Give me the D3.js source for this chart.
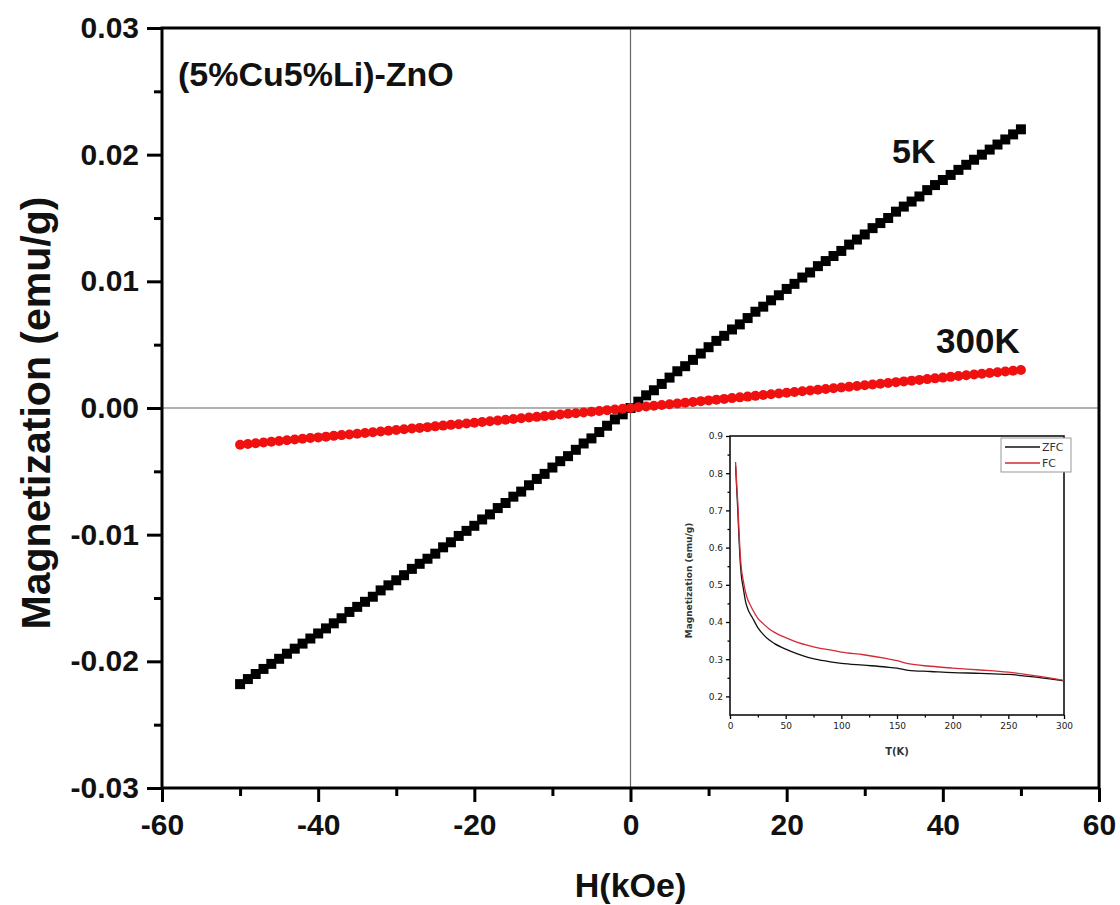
<!DOCTYPE html>
<html>
<head>
<meta charset="utf-8">
<script src="https://cdn.jsdelivr.net/npm/d3@7"></script>
<style>
  body { margin: 0; background: #fff; }
  svg { font-family: "Liberation Sans", Arial, sans-serif; }
</style>
</head>
<body>
<div id="chart"></div>
<script>
// Field values (kOe)
var fieldKOe = [-50,-49,-48,-47,-46,-45,-44,-43,-42,-41,-40,-39,-38,-37,-36,-35,-34,-33,-32,-31,
  -30,-29,-28,-27,-26,-25,-24,-23,-22,-21,-20,-19,-18,-17,-16,-15,-14,-13,-12,-11,
  -10,-9,-8,-7,-6,-5,-4,-3,-2,-1,0,1,2,3,4,5,6,7,8,9,10,11,12,13,14,15,16,17,18,19,
  20,21,22,23,24,25,26,27,28,29,30,31,32,33,34,35,36,37,38,39,40,41,42,43,44,45,46,47,48,49,50];

// Magnetization at 5K (emu/g)
var m5K = [-0.0218,-0.0214,-0.0210,-0.0206,-0.0202,-0.0198,-0.0194,-0.0190,-0.0186,-0.0182,
  -0.0178,-0.0174,-0.0170,-0.0166,-0.0161,-0.0157,-0.0153,-0.0149,-0.0144,-0.0140,
  -0.0136,-0.0132,-0.0127,-0.0123,-0.0119,-0.0115,-0.0110,-0.0106,-0.0101,-0.0097,
  -0.0093,-0.0088,-0.0084,-0.0079,-0.0075,-0.0070,-0.0066,-0.0061,-0.0056,-0.0052,
  -0.0047,-0.0042,-0.0038,-0.0033,-0.0028,-0.0024,-0.0019,-0.0014,-0.0009,-0.0005,
  0.0000,
  0.0005,0.0010,0.0014,0.0019,0.0024,0.0029,0.0033,0.0038,0.0043,0.0048,
  0.0053,0.0057,0.0062,0.0066,0.0071,0.0076,0.0080,0.0085,0.0089,0.0094,
  0.0098,0.0103,0.0107,0.0112,0.0116,0.0120,0.0124,0.0129,0.0133,0.0137,
  0.0142,0.0146,0.0150,0.0155,0.0159,0.0163,0.0167,0.0172,0.0176,0.0180,
  0.0184,0.0188,0.0192,0.0196,0.0200,0.0204,0.0208,0.0212,0.0216,0.0220];

// Magnetization at 300K (emu/g)
var m300K = [-0.00290,-0.00284,-0.00278,-0.00272,-0.00267,-0.00261,-0.00255,-0.00249,-0.00243,-0.00237,
  -0.00232,-0.00226,-0.00220,-0.00214,-0.00209,-0.00203,-0.00197,-0.00191,-0.00186,-0.00180,
  -0.00174,-0.00168,-0.00162,-0.00157,-0.00151,-0.00145,-0.00139,-0.00133,-0.00128,-0.00122,
  -0.00116,-0.00110,-0.00104,-0.00099,-0.00093,-0.00087,-0.00081,-0.00075,-0.00070,-0.00064,
  -0.00058,-0.00052,-0.00046,-0.00041,-0.00035,-0.00029,-0.00023,-0.00017,-0.00012,-0.00006,
  0.00000,
  0.00006,0.00012,0.00018,0.00024,0.00030,0.00036,0.00042,0.00048,0.00054,0.00060,
  0.00066,0.00072,0.00078,0.00084,0.00090,0.00096,0.00102,0.00108,0.00114,0.00120,
  0.00126,0.00132,0.00138,0.00144,0.00150,0.00156,0.00162,0.00168,0.00174,0.00180,
  0.00186,0.00192,0.00198,0.00204,0.00210,0.00216,0.00222,0.00228,0.00234,0.00240,
  0.00246,0.00252,0.00258,0.00264,0.00270,0.00276,0.00282,0.00288,0.00294,0.00300];

// Tick values
var xTicks = [-60, -40, -20, 0, 20, 40, 60];
var xMinorTicks = [-50, -30, -10, 10, 30, 50];
var yTicks = [-0.03, -0.02, -0.01, 0, 0.01, 0.02, 0.03];
var yMinorTicks = [-0.025, -0.015, -0.005, 0.005, 0.015, 0.025];

// Inset: ZFC / FC magnetization vs temperature
var tempK = [5,6,7,8,9,10,12,14,16,18,20,25,30,35,40,50,60,70,80,90,100,120,140,150,160,180,200,225,250,275,300];
var zfc = [0.82,0.76,0.70,0.63,0.57,0.53,0.49,0.455,0.435,0.422,0.412,0.385,0.366,0.352,0.342,0.327,0.315,0.305,0.298,0.293,0.289,0.284,0.279,0.276,0.270,0.267,0.264,0.262,0.259,0.252,0.242];
var fc = [0.83,0.77,0.72,0.65,0.59,0.55,0.51,0.48,0.46,0.447,0.435,0.410,0.395,0.382,0.372,0.358,0.346,0.337,0.330,0.325,0.319,0.312,0.302,0.296,0.288,0.281,0.276,0.271,0.265,0.255,0.243];
var insetXTicks = [0, 50, 100, 150, 200, 250, 300];
var insetXMinor = [25, 75, 125, 175, 225, 275];
var insetYTicks = [0.2, 0.3, 0.4, 0.5, 0.6, 0.7, 0.8, 0.9];
var insetYMinor = [0.25, 0.35, 0.45, 0.55, 0.65, 0.75, 0.85];

// SVG size and margins
var svgWidth = 1120;
var svgHeight = 905;
var margin = { top: 28, right: 21, bottom: 117, left: 162 };
var width = svgWidth - margin.left - margin.right;
var height = svgHeight - margin.top - margin.bottom;

var svg = d3.select("#chart")
  .append("svg")
  .attr("width", svgWidth)
  .attr("height", svgHeight);

var chartGroup = svg.append("g")
  .attr("transform", `translate(${margin.left}, ${margin.top})`);

var xScale = d3.scaleLinear().domain([-60, 60]).range([0, width]);
var yScale = d3.scaleLinear().domain([-0.03, 0.03]).range([height, 0]);

var fmtY = function(d) { return d3.format(".2f")(d).replace("\u2212", "-"); };
var fmtX = function(d) { return String(d); };

// Zero reference lines
chartGroup.append("line")
  .attr("x1", xScale(0)).attr("x2", xScale(0))
  .attr("y1", 0).attr("y2", height)
  .attr("stroke", "#666").attr("stroke-width", 1.2);
chartGroup.append("line")
  .attr("x1", 0).attr("x2", width)
  .attr("y1", yScale(0)).attr("y2", yScale(0))
  .attr("stroke", "#666").attr("stroke-width", 1.2);

// Axes
function styleAxis(g, size) {
  g.select(".domain").remove();
  g.selectAll(".tick line").attr("stroke", "#000").attr("stroke-width", 3);
  g.selectAll(".tick text")
    .attr("fill", "#111")
    .attr("font-size", size)
    .attr("font-weight", "bold");
}

chartGroup.append("g")
  .attr("transform", `translate(0, ${height})`)
  .call(d3.axisBottom(xScale).tickValues(xTicks).tickFormat(fmtX).tickSize(14).tickPadding(12))
  .call(styleAxis, 30);
chartGroup.append("g")
  .attr("transform", `translate(0, ${height})`)
  .call(d3.axisBottom(xScale).tickValues(xMinorTicks).tickFormat("").tickSize(8))
  .call(styleAxis, 30);

chartGroup.append("g")
  .call(d3.axisLeft(yScale).tickValues(yTicks).tickFormat(fmtY).tickSize(15).tickPadding(8))
  .call(styleAxis, 30);
chartGroup.append("g")
  .call(d3.axisLeft(yScale).tickValues(yMinorTicks).tickFormat("").tickSize(8))
  .call(styleAxis, 30);

// Frame
chartGroup.append("rect")
  .attr("width", width).attr("height", height)
  .attr("fill", "none").attr("stroke", "#000").attr("stroke-width", 3);

// Data points
var pts5K = fieldKOe.map(function(h, i) { return { h: h, m: m5K[i] }; });
var pts300K = fieldKOe.map(function(h, i) { return { h: h, m: m300K[i] }; });

chartGroup.append("g").selectAll("rect")
  .data(pts5K)
  .enter()
  .append("rect")
  .attr("x", d => xScale(d.h) - 5)
  .attr("y", d => yScale(d.m) - 5)
  .attr("width", 10)
  .attr("height", 10)
  .attr("fill", "#000");

chartGroup.append("g").selectAll("circle")
  .data(pts300K)
  .enter()
  .append("circle")
  .attr("cx", d => xScale(d.h))
  .attr("cy", d => yScale(d.m))
  .attr("r", 5)
  .attr("fill", "#f01010");

// Labels inside the plot
chartGroup.append("text")
  .attr("x", 16).attr("y", 58)
  .attr("font-size", 34).attr("font-weight", "bold").attr("fill", "#111")
  .text("(5%Cu5%Li)-ZnO");
chartGroup.append("text")
  .attr("x", 730).attr("y", 135)
  .attr("font-size", 34).attr("font-weight", "bold").attr("fill", "#111")
  .text("5K");
chartGroup.append("text")
  .attr("x", 774).attr("y", 325)
  .attr("font-size", 35).attr("font-weight", "bold").attr("fill", "#111")
  .text("300K");

// Axis titles
svg.append("text")
  .attr("x", margin.left + xScale(0)).attr("y", 897)
  .attr("text-anchor", "middle")
  .attr("font-size", 34).attr("font-weight", "bold").attr("fill", "#111")
  .text("H(kOe)");
svg.append("text")
  .attr("transform", `translate(50, ${margin.top + yScale(0) + 5}) rotate(-90)`)
  .attr("text-anchor", "middle")
  .attr("font-size", 41).attr("font-weight", "bold").attr("fill", "#111")
  .text("Magnetization (emu/g)");

// Inset chart
var inset = { left: 730, top: 436, width: 334, height: 279 };
var insetGroup = svg.append("g")
  .attr("transform", `translate(${inset.left}, ${inset.top})`);

var ixScale = d3.scaleLinear().domain([0, 300]).range([0, inset.width]);
var iyScale = d3.scaleLinear().domain([0.15, 0.9]).range([inset.height, 0]);

function styleInsetAxis(g) {
  g.select(".domain").remove();
  g.selectAll(".tick line").attr("stroke", "#000").attr("stroke-width", 1.3);
  g.selectAll(".tick text")
    .attr("fill", "#222")
    .attr("font-size", 9)
    .attr("font-family", "'DejaVu Sans', sans-serif");
}

insetGroup.append("g")
  .attr("transform", `translate(0, ${inset.height})`)
  .call(d3.axisBottom(ixScale).tickValues(insetXTicks).tickFormat(fmtX).tickSize(4).tickPadding(4))
  .call(styleInsetAxis);
insetGroup.append("g")
  .attr("transform", `translate(0, ${inset.height})`)
  .call(d3.axisBottom(ixScale).tickValues(insetXMinor).tickFormat("").tickSize(2.5))
  .call(styleInsetAxis);
insetGroup.append("g")
  .call(d3.axisLeft(iyScale).tickValues(insetYTicks).tickFormat(d3.format(".1f")).tickSize(4).tickPadding(3))
  .call(styleInsetAxis);
insetGroup.append("g")
  .call(d3.axisLeft(iyScale).tickValues(insetYMinor).tickFormat("").tickSize(2.5))
  .call(styleInsetAxis);

insetGroup.append("rect")
  .attr("width", inset.width).attr("height", inset.height)
  .attr("fill", "none").attr("stroke", "#111").attr("stroke-width", 1.6);

var insetLine = d3.line()
  .x(d => ixScale(d.t))
  .y(d => iyScale(d.m))
  .curve(d3.curveMonotoneX);

var zfcPts = tempK.map(function(t, i) { return { t: t, m: zfc[i] }; });
var fcPts = tempK.map(function(t, i) { return { t: t, m: fc[i] }; });

insetGroup.append("path")
  .datum(zfcPts)
  .attr("d", insetLine)
  .attr("fill", "none").attr("stroke", "#111").attr("stroke-width", 1.3);
insetGroup.append("path")
  .datum(fcPts)
  .attr("d", insetLine)
  .attr("fill", "none").attr("stroke", "#d42a35").attr("stroke-width", 1.3);

// Inset legend
var legend = insetGroup.append("g")
  .attr("transform", `translate(${inset.width - 63}, 2)`);
legend.append("rect")
  .attr("width", 70).attr("height", 34)
  .attr("fill", "#fff").attr("stroke", "#999").attr("stroke-width", 1);
var legendItems = [{ name: "ZFC", color: "#111" }, { name: "FC", color: "#d42a35" }];
legendItems.forEach(function(item, i) {
  legend.append("line")
    .attr("x1", 4).attr("x2", 39)
    .attr("y1", 9 + i * 16).attr("y2", 9 + i * 16)
    .attr("stroke", item.color).attr("stroke-width", 1.3);
  legend.append("text")
    .attr("x", 41).attr("y", 13 + i * 16)
    .attr("font-size", 11)
    .attr("font-family", "'DejaVu Sans', sans-serif")
    .attr("fill", "#333")
    .text(item.name);
});

// Inset axis titles
insetGroup.append("text")
  .attr("x", ixScale(150)).attr("y", inset.height + 40)
  .attr("text-anchor", "middle")
  .attr("font-size", 10).attr("font-weight", "bold").attr("fill", "#333")
  .attr("font-family", "'DejaVu Sans', sans-serif")
  .text("T(K)");
insetGroup.append("text")
  .attr("transform", `translate(-38, ${inset.height / 2 + 5}) rotate(-90)`)
  .attr("text-anchor", "middle")
  .attr("font-size", 9).attr("font-weight", "bold").attr("fill", "#333")
  .attr("font-family", "'DejaVu Sans', sans-serif")
  .text("Magnetization (emu/g)");
</script>
</body>
</html>
